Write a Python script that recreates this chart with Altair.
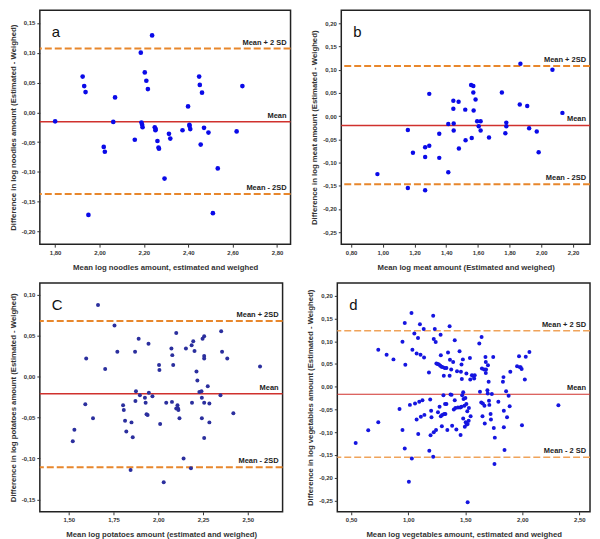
import altair as alt
import pandas as pd

FONT = "Liberation Sans"

# ---------------- Panel a: noodles ----------------
a_x = [1.800, 1.924, 1.931, 1.937, 1.950, 2.019, 2.024, 2.062, 2.070, 2.159, 2.186,
       2.189, 2.192, 2.194, 2.204, 2.211, 2.218, 2.237, 2.249, 2.252, 2.253, 2.261,
       2.266, 2.268, 2.293, 2.313, 2.319, 2.374, 2.399, 2.405, 2.406, 2.409, 2.449,
       2.452, 2.456, 2.462, 2.471, 2.491, 2.511, 2.533, 2.618, 2.644]
a_y = [-0.015, 0.060, 0.044, 0.034, -0.172, -0.058, -0.066, -0.016, 0.025, -0.046, 0.100,
       -0.017, -0.021, -0.025, 0.067, 0.053, 0.039, 0.129, -0.025, -0.030, -0.028, -0.048,
       -0.059, -0.061, -0.111, -0.036, -0.044, -0.030, 0.010, -0.021, -0.023, -0.028, 0.060,
       0.046, -0.054, 0.033, -0.026, -0.034, -0.169, -0.094, -0.032, 0.044]
a_lines = [0.107, -0.0156, -0.137]
a_labels = ["Mean + 2 SD", "Mean", "Mean - 2SD"]

# ---------------- Panel b: meat ----------------
b_x = [0.966, 1.158, 1.158, 1.190, 1.267, 1.267, 1.267, 1.293, 1.293, 1.356, 1.356,
       1.413, 1.413, 1.445, 1.445, 1.447, 1.447, 1.478, 1.480, 1.520, 1.522, 1.557,
       1.561, 1.571, 1.571, 1.573, 1.585, 1.595, 1.605, 1.617, 1.617, 1.670, 1.751,
       1.773, 1.779, 1.779, 1.868, 1.864, 1.911, 1.923, 1.971, 1.983, 2.070, 2.133]
b_y = [-0.125, -0.030, -0.155, -0.079, -0.067, -0.088, -0.160, 0.048, -0.064, -0.038, -0.090,
       -0.017, -0.121, 0.033, 0.016, -0.016, -0.031, 0.031, -0.070, 0.014, -0.052, 0.067,
       -0.047, 0.065, 0.051, 0.012, 0.036, -0.011, -0.022, -0.011, -0.031, -0.046, 0.051,
       -0.037, -0.014, -0.022, 0.113, 0.025, 0.022, -0.026, -0.033, -0.078, 0.100, 0.007]
b_lines = [0.108, -0.020, -0.147]
b_labels = ["Mean + 2SD", "Mean", "Mean - 2SD"]

# ---------------- Panel c: potatoes ----------------
c_x = [1.522, 1.531, 1.592, 1.597, 1.635, 1.663, 1.703, 1.755, 1.771, 1.803, 1.807,
       1.814, 1.821, 1.845, 1.850, 1.857, 1.870, 1.872, 1.875, 1.890, 1.897, 1.925,
       1.929, 1.934, 1.940, 1.945, 1.947, 1.967, 2.004, 2.006, 2.010, 2.030, 2.044,
       2.073, 2.076, 2.078, 2.083, 2.100, 2.100, 2.107, 2.110, 2.112, 2.118, 2.141,
       2.154, 2.186, 2.188, 2.195, 2.202, 2.182, 2.213, 2.218, 2.229, 2.241, 2.243,
       2.243, 2.247, 2.256, 2.256, 2.256, 2.256, 2.256, 2.276, 2.285, 2.285, 2.347,
       2.351, 2.356, 2.385, 2.419, 2.568]
c_y = [-0.079, -0.065, -0.034, 0.022, -0.051, 0.087, 0.009, 0.062, 0.030, -0.035, -0.041,
       -0.054, -0.067, -0.114, -0.056, -0.074, 0.030, -0.030, -0.018, 0.046, -0.023, -0.026,
       -0.032, -0.046, -0.047, 0.040, -0.020, -0.024, 0.014, 0.008, -0.058, -0.129, -0.032,
       0.034, -0.031, 0.026, 0.014, 0.053, -0.039, -0.035, -0.039, -0.041, -0.051, -0.100,
       0.034, 0.038, -0.032, 0.043, 0.031, -0.112, 0.006, -0.005, -0.019, -0.018, -0.026,
       -0.051, 0.046, 0.049, 0.025, 0.022, -0.032, -0.075, -0.012, -0.033, -0.056, -0.023,
       0.055, 0.030, 0.022, -0.045, 0.012]
c_lines = [0.0676, -0.0211, -0.1108]
c_labels = ["Mean + 2SD", "Mean", "Mean - 2SD"]

# ---------------- Panel d: vegetables ----------------
d_x = [0.540, 0.650, 0.738, 0.738, 0.811, 0.871, 0.924, 0.950, 0.950, 0.970, 0.970,
       0.975, 1.006, 1.015, 1.029, 1.032, 1.037, 1.054, 1.060, 1.074, 1.074, 1.086,
       1.088, 1.097, 1.103, 1.108, 1.111, 1.125, 1.136, 1.139, 1.142, 1.182, 1.185,
       1.193, 1.196, 1.201, 1.204, 1.219, 1.219, 1.224, 1.224, 1.233, 1.241, 1.244,
       1.247, 1.258, 1.261, 1.269, 1.275, 1.281, 1.284, 1.286, 1.286, 1.292, 1.295,
       1.298, 1.303, 1.309, 1.312, 1.315, 1.320, 1.323, 1.326, 1.335, 1.335, 1.343,
       1.349, 1.363, 1.363, 1.366, 1.371, 1.377, 1.380, 1.385, 1.394, 1.400, 1.408,
       1.408, 1.414, 1.422, 1.428, 1.436, 1.450, 1.456, 1.459, 1.462, 1.467, 1.467,
       1.470, 1.473, 1.479, 1.482, 1.482, 1.485, 1.493, 1.496, 1.501, 1.504, 1.510,
       1.510, 1.513, 1.518, 1.521, 1.521, 1.530, 1.532, 1.541, 1.544, 1.547, 1.558,
       1.566, 1.578, 1.583, 1.623, 1.629, 1.640, 1.643, 1.646, 1.651, 1.654, 1.665,
       1.668, 1.671, 1.677, 1.680, 1.680, 1.682, 1.694, 1.697, 1.699, 1.705, 1.708,
       1.711, 1.722, 1.725, 1.733, 1.745, 1.750, 1.756, 1.759, 1.790, 1.830, 1.835,
       1.838, 1.838, 1.844, 1.858, 1.866, 1.880, 1.889, 1.895, 1.954, 1.971, 1.977,
       1.985, 1.994, 1.997, 2.022, 2.030, 2.062, 2.316]
d_y = [-0.124, -0.096, 0.081, -0.078, 0.070, 0.060, -0.049, 0.099, -0.095, 0.140, -0.136,
       0.048, -0.209, -0.040, 0.162, -0.158, 0.081, 0.117, -0.037, 0.073, -0.072, 0.107,
       -0.104, -0.033, 0.137, 0.070, -0.066, -0.030, 0.127, 0.064, -0.062, 0.031, -0.141,
       -0.028, -0.107, -0.053, -0.067, 0.156, -0.154, 0.105, -0.100, 0.127, 0.098, -0.095,
       0.051, 0.050, -0.056, 0.049, -0.044, 0.046, 0.114, 0.069, -0.065, 0.044, -0.087,
       -0.062, 0.043, -0.019, 0.024, -0.060, 0.041, -0.038, -0.060, 0.041, -0.038, -0.095,
       0.075, 0.024, 0.133, 0.059, -0.017, 0.038, -0.018, -0.086, 0.054, -0.050, 0.102,
       -0.030, -0.047, -0.094, 0.034, -0.046, 0.078, -0.046, -0.106, 0.033, 0.049, -0.044,
       0.017, -0.019, 0.060, -0.070, -0.012, -0.027, -0.042, -0.088, -0.025, -0.078, 0.029,
       -0.038, -0.083, -0.054, -0.082, -0.254, -0.075, -0.047, 0.063, 0.016, -0.065, 0.025,
       0.024, 0.018, 0.025, 0.095, -0.011, -0.035, 0.109, 0.040, -0.065, -0.037, 0.038,
       -0.042, -0.081, 0.065, 0.054, 0.030, 0.038, -0.008, -0.015, 0.047, 0.011, -0.031,
       -0.040, -0.060, -0.072, -0.016, 0.065, -0.091, -0.170, -0.112, -0.033, 0.011, 0.021,
       -0.053, -0.089, -0.139, -0.010, -0.067, -0.020, -0.043, 0.033, 0.045, 0.067, 0.043,
       0.043, 0.039, -0.085, 0.016, 0.066, 0.076, -0.041]
d_lines = [0.123, -0.0167, -0.155]
d_labels = ["Mean + 2 SD", "Mean", "Mean - 2 SD"]

KINDS = ["limit", "mean", "limit"]
FMT = "replace(replace(format(datum.value, '.2f'), '.', ','), '\u2212', '-')"


def panel(xs, ys, lines, labels, letter, xtitle, ytitle, xdom, ydom, xticks, yticks,
          w, h, pt_color, pt_size, orange, orange_w, red_w):
    df = pd.DataFrame({"x": xs, "y": ys})
    ldf = pd.DataFrame({"y": lines, "label": labels, "kind": KINDS})
    X = alt.X("x:Q", scale=alt.Scale(domain=xdom, nice=False, zero=False),
              axis=alt.Axis(values=xticks, title=xtitle, labelExpr=FMT))
    Y = alt.Y("y:Q", scale=alt.Scale(domain=ydom, nice=False, zero=False),
              axis=alt.Axis(values=yticks, title=ytitle, labelExpr=FMT))
    lim = alt.Chart(ldf).transform_filter("datum.kind == 'limit'").mark_rule(
        color=orange, strokeWidth=orange_w, strokeDash=[7, 3]).encode(y=Y)
    mean = alt.Chart(ldf).transform_filter("datum.kind == 'mean'").mark_rule(
        color="#d0312d", strokeWidth=red_w).encode(y=Y)
    pts = alt.Chart(df).mark_circle(size=pt_size, color=pt_color, opacity=1).encode(x=X, y=Y)
    txt = alt.Chart(ldf).mark_text(align="right", baseline="bottom", dy=-2, fontSize=7.5,
                                   fontWeight="bold", font=FONT, color="#222").encode(
        y=Y, x=alt.value(w - 4), text="label:N")
    let = alt.Chart(pd.DataFrame({"t": [letter]})).mark_text(
        align="left", baseline="alphabetic", fontSize=15, font=FONT, color="#111").encode(
        x=alt.value(12), y=alt.value(27), text="t:N")
    return alt.layer(lim, mean, pts, txt, let).properties(width=w, height=h)


A = panel(a_x, a_y, a_lines, a_labels, "a",
          "Mean log noodles amount, estimated and weighed",
          "Difference in log noodles amount (Estimated - Weighed)",
          [1.731, 2.861], [-0.221, 0.171],
          [1.8, 2.0, 2.2, 2.4, 2.6, 2.8],
          [-0.20, -0.15, -0.10, -0.05, 0.0, 0.05, 0.10, 0.15],
          252, 235, "#0a0ae8", 22, "#e8872c", 2, 1.5)
B = panel(b_x, b_y, b_lines, b_labels, "b",
          "Mean log meat amount (Estimated and weighed)",
          "Difference in log meat amount (Estimated - Weighed)",
          [0.738, 2.307], [-0.276, 0.228],
          [0.8, 1.0, 1.2, 1.4, 1.6, 1.8, 2.0, 2.2],
          [-0.25, -0.20, -0.15, -0.10, -0.05, 0.0, 0.05, 0.10, 0.15, 0.20],
          250, 235, "#0a0ae8", 20, "#e8872c", 2, 1.5)
C = panel(c_x, c_y, c_lines, c_labels, "C",
          "Mean log potatoes amount (estimated and weighed)",
          "Difference in log potatoes amount (Estimated - Weighed)",
          [1.338, 2.694], [-0.165, 0.114],
          [1.5, 1.75, 2.0, 2.25, 2.5],
          [-0.15, -0.10, -0.05, 0.0, 0.05, 0.10],
          244, 230, "#2b2f9e", 16, "#e8872c", 2, 1.5)
D = panel(d_x, d_y, d_lines, d_labels, "d",
          "Mean log vegetables amount, estimated and weighed",
          "Difference in log vegetables amount (Estimated - Weighed)",
          [0.379, 2.593], [-0.275, 0.228],
          [0.5, 1.0, 1.5, 2.0, 2.5],
          [-0.25, -0.20, -0.15, -0.10, -0.05, 0.0, 0.05, 0.10, 0.15, 0.20],
          254, 230, "#1515e0", 16, "#f0a35a", 1.5, 1.2)

chart = alt.vconcat(
    alt.hconcat(A, B, spacing=17),
    alt.hconcat(C, D, spacing=21),
    spacing=10,
).properties(padding=0).configure_axis(
    labelFont=FONT, labelFontSize=6, labelFontWeight="bold", labelColor="#333",
    titleFont=FONT, titleFontSize=7.8, titleFontWeight="bold", titleColor="#333",
    tickSize=3, tickColor="#333", domain=False, grid=False, labelPadding=2,
    labelFlush=False, labelOverlap=False,
).configure_axisX(titlePadding=8).configure_axisY(titlePadding=4).configure_view(
    stroke="#222", strokeWidth=1.5)

chart.save("out.html", embed_options={"renderer": "svg", "actions": False})
